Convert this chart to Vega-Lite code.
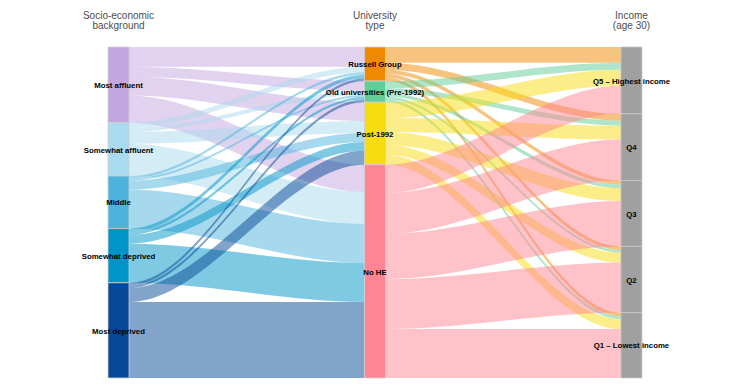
{
  "$schema": "https://vega.github.io/schema/vega-lite/v6.json",
  "width": 534,
  "height": 331,
  "autosize": {"type": "none"},
  "padding": {"left": 108, "top": 47, "right": 105, "bottom": 13},
  "background": "white",
  "config": {
    "view": {"stroke": null},
    "axis": {"disable": true},
    "legend": {"disable": true},
    "font": "Liberation Sans"
  },
  "datasets": {
    "flows": [
      {"stage": 0, "source": "Most affluent", "s": 1, "target": "Russell Group", "t": 1, "value": 6.0},
      {"stage": 0, "source": "Most affluent", "s": 1, "target": "Old universities (Pre-1992)", "t": 2, "value": 3.0},
      {"stage": 0, "source": "Most affluent", "s": 1, "target": "Post-1992", "t": 3, "value": 5.7},
      {"stage": 0, "source": "Most affluent", "s": 1, "target": "No HE", "t": 4, "value": 8.2},
      {"stage": 0, "source": "Somewhat affluent", "s": 2, "target": "Russell Group", "t": 1, "value": 1.6},
      {"stage": 0, "source": "Somewhat affluent", "s": 2, "target": "Old universities (Pre-1992)", "t": 2, "value": 1.2},
      {"stage": 0, "source": "Somewhat affluent", "s": 2, "target": "Post-1992", "t": 3, "value": 3.6},
      {"stage": 0, "source": "Somewhat affluent", "s": 2, "target": "No HE", "t": 4, "value": 9.7},
      {"stage": 0, "source": "Middle", "s": 3, "target": "Russell Group", "t": 1, "value": 0.8},
      {"stage": 0, "source": "Middle", "s": 3, "target": "Old universities (Pre-1992)", "t": 2, "value": 0.6},
      {"stage": 0, "source": "Middle", "s": 3, "target": "Post-1992", "t": 3, "value": 2.7},
      {"stage": 0, "source": "Middle", "s": 3, "target": "No HE", "t": 4, "value": 11.8},
      {"stage": 0, "source": "Somewhat deprived", "s": 4, "target": "Russell Group", "t": 1, "value": 1.1},
      {"stage": 0, "source": "Somewhat deprived", "s": 4, "target": "Old universities (Pre-1992)", "t": 2, "value": 0.8},
      {"stage": 0, "source": "Somewhat deprived", "s": 4, "target": "Post-1992", "t": 3, "value": 2.7},
      {"stage": 0, "source": "Somewhat deprived", "s": 4, "target": "No HE", "t": 4, "value": 11.8},
      {"stage": 0, "source": "Most deprived", "s": 5, "target": "Russell Group", "t": 1, "value": 0.8},
      {"stage": 0, "source": "Most deprived", "s": 5, "target": "Old universities (Pre-1992)", "t": 2, "value": 0.8},
      {"stage": 0, "source": "Most deprived", "s": 5, "target": "Post-1992", "t": 3, "value": 4.2},
      {"stage": 0, "source": "Most deprived", "s": 5, "target": "No HE", "t": 4, "value": 23.0},
      {"stage": 1, "source": "Russell Group", "s": 1, "target": "Q5 – Highest income", "t": 1, "value": 4.8},
      {"stage": 1, "source": "Russell Group", "s": 1, "target": "Q4", "t": 2, "value": 2.1},
      {"stage": 1, "source": "Russell Group", "s": 1, "target": "Q3", "t": 3, "value": 1.2},
      {"stage": 1, "source": "Russell Group", "s": 1, "target": "Q2", "t": 4, "value": 1.1},
      {"stage": 1, "source": "Russell Group", "s": 1, "target": "Q1 – Lowest income", "t": 5, "value": 1.1},
      {"stage": 1, "source": "Old universities (Pre-1992)", "s": 2, "target": "Q5 – Highest income", "t": 1, "value": 2.1},
      {"stage": 1, "source": "Old universities (Pre-1992)", "s": 2, "target": "Q4", "t": 2, "value": 1.5},
      {"stage": 1, "source": "Old universities (Pre-1992)", "s": 2, "target": "Q3", "t": 3, "value": 1.1},
      {"stage": 1, "source": "Old universities (Pre-1992)", "s": 2, "target": "Q2", "t": 4, "value": 0.8},
      {"stage": 1, "source": "Old universities (Pre-1992)", "s": 2, "target": "Q1 – Lowest income", "t": 5, "value": 0.9},
      {"stage": 1, "source": "Post-1992", "s": 3, "target": "Q5 – Highest income", "t": 1, "value": 4.8},
      {"stage": 1, "source": "Post-1992", "s": 3, "target": "Q4", "t": 2, "value": 4.2},
      {"stage": 1, "source": "Post-1992", "s": 3, "target": "Q3", "t": 3, "value": 3.9},
      {"stage": 1, "source": "Post-1992", "s": 3, "target": "Q2", "t": 4, "value": 3.0},
      {"stage": 1, "source": "Post-1992", "s": 3, "target": "Q1 – Lowest income", "t": 5, "value": 3.0},
      {"stage": 1, "source": "No HE", "s": 4, "target": "Q5 – Highest income", "t": 1, "value": 8.5},
      {"stage": 1, "source": "No HE", "s": 4, "target": "Q4", "t": 2, "value": 12.4},
      {"stage": 1, "source": "No HE", "s": 4, "target": "Q3", "t": 3, "value": 13.7},
      {"stage": 1, "source": "No HE", "s": 4, "target": "Q2", "t": 4, "value": 15.1},
      {"stage": 1, "source": "No HE", "s": 4, "target": "Q1 – Lowest income", "t": 5, "value": 14.8}
    ]
  },
  "data": {"name": "flows"},
  "layer": [
    {
      "transform": [
        {"window": [{"op": "sum", "field": "value", "as": "sy1"}], "sort": [{"field": "s"}, {"field": "t"}], "groupby": ["stage"], "frame": [null, 0]},
        {"window": [{"op": "sum", "field": "value", "as": "ty1"}], "sort": [{"field": "t"}, {"field": "s"}], "groupby": ["stage"], "frame": [null, 0]},
        {"calculate": "datum.sy1 - datum.value", "as": "sy0"},
        {"calculate": "datum.ty1 - datum.value", "as": "ty0"},
        {"calculate": "[0, 1, 2, 3]", "as": "k"},
        {"flatten": ["k"]},
        {"calculate": "datum.stage + (datum.k == 0 ? 0.082 : datum.k == 1 ? 0.083 : datum.k == 2 ? 0.999 : 1)", "as": "px"},
        {"calculate": "datum.k < 2 ? datum.sy0 : datum.ty0", "as": "py0"},
        {"calculate": "datum.k < 2 ? datum.sy1 : datum.ty1", "as": "py1"},
        {"calculate": "datum.source + ' > ' + datum.target", "as": "fid"}
      ],
      "mark": {"type": "area", "interpolate": "monotone", "opacity": 0.5},
      "encoding": {
        "x": {"field": "px", "type": "quantitative", "scale": {"domain": [0, 2.082], "nice": false, "zero": false}},
        "y": {"field": "py0", "type": "quantitative", "scale": {"domain": [0, 100.1], "reverse": true, "nice": false, "zero": false}},
        "y2": {"field": "py1"},
        "color": {
          "field": "source",
          "type": "nominal",
          "legend": null,
          "scale": {
            "domain": ["Most affluent", "Somewhat affluent", "Middle", "Somewhat deprived", "Most deprived", "Russell Group", "Old universities (Pre-1992)", "Post-1992", "No HE", "Q5 – Highest income", "Q4", "Q3", "Q2", "Q1 – Lowest income"],
            "range": ["#c3a6e0", "#a9daee", "#4db3dc", "#0095c8", "#064896", "#ef8a00", "#60ce98", "#f8dc12", "#ff8592", "#a0a0a0", "#a0a0a0", "#a0a0a0", "#a0a0a0", "#a0a0a0"]
          }
        },
        "detail": {"field": "fid"}
      }
    },
    {
      "transform": [
        {"filter": "datum.stage == 0"},
        {"aggregate": [{"op": "sum", "field": "value", "as": "total"}], "groupby": ["source", "s"]},
        {"window": [{"op": "sum", "field": "total", "as": "n1"}], "sort": [{"field": "s"}], "frame": [null, 0]},
        {"calculate": "datum.n1 - datum.total", "as": "n0"},
        {"calculate": "(datum.n0 + datum.n1) / 2", "as": "mid"}
      ],
      "layer": [
        {
          "mark": {"type": "rect", "stroke": "#d0d0d0", "strokeWidth": 0.8},
          "encoding": {
            "x": {"datum": 0, "type": "quantitative"},
            "x2": {"datum": 0.082},
            "y": {"field": "n0", "type": "quantitative"},
            "y2": {"field": "n1"},
            "color": {"field": "source", "type": "nominal", "legend": null}
          }
        },
        {
          "mark": {"type": "text", "fontWeight": "bold", "fontSize": 7.8, "color": "#000000", "align": "center", "baseline": "middle", "dy": 1.2},
          "encoding": {
            "x": {"datum": 0.041, "type": "quantitative"},
            "y": {"field": "mid", "type": "quantitative"},
            "text": {"field": "source"}
          }
        }
      ]
    },
    {
      "transform": [
        {"filter": "datum.stage == 0"},
        {"aggregate": [{"op": "sum", "field": "value", "as": "total"}], "groupby": ["target", "t"]},
        {"window": [{"op": "sum", "field": "total", "as": "n1"}], "sort": [{"field": "t"}], "frame": [null, 0]},
        {"calculate": "datum.n1 - datum.total", "as": "n0"},
        {"calculate": "(datum.n0 + datum.n1) / 2", "as": "mid"}
      ],
      "layer": [
        {
          "mark": {"type": "rect", "stroke": "#d0d0d0", "strokeWidth": 0.8},
          "encoding": {
            "x": {"datum": 1, "type": "quantitative"},
            "x2": {"datum": 1.082},
            "y": {"field": "n0", "type": "quantitative"},
            "y2": {"field": "n1"},
            "color": {"field": "target", "type": "nominal", "legend": null}
          }
        },
        {
          "mark": {"type": "text", "fontWeight": "bold", "fontSize": 7.8, "color": "#000000", "align": "center", "baseline": "middle", "dy": 1.2},
          "encoding": {
            "x": {"datum": 1.041, "type": "quantitative"},
            "y": {"field": "mid", "type": "quantitative"},
            "text": {"field": "target"}
          }
        }
      ]
    },
    {
      "transform": [
        {"filter": "datum.stage == 1"},
        {"aggregate": [{"op": "sum", "field": "value", "as": "total"}], "groupby": ["target", "t"]},
        {"window": [{"op": "sum", "field": "total", "as": "n1"}], "sort": [{"field": "t"}], "frame": [null, 0]},
        {"calculate": "datum.n1 - datum.total", "as": "n0"},
        {"calculate": "(datum.n0 + datum.n1) / 2", "as": "mid"}
      ],
      "layer": [
        {
          "mark": {"type": "rect", "stroke": "#c8c8c8", "strokeWidth": 0.8},
          "encoding": {
            "x": {"datum": 2, "type": "quantitative"},
            "x2": {"datum": 2.082},
            "y": {"field": "n0", "type": "quantitative"},
            "y2": {"field": "n1"},
            "color": {"field": "target", "type": "nominal", "legend": null}
          }
        },
        {
          "mark": {"type": "text", "fontWeight": "bold", "fontSize": 7.8, "color": "#000000", "align": "center", "baseline": "middle", "dy": 1.2},
          "encoding": {
            "x": {"datum": 2.041, "type": "quantitative"},
            "y": {"field": "mid", "type": "quantitative"},
            "text": {"field": "target"}
          }
        }
      ]
    },
    {
      "data": {"values": [{}]},
      "mark": {"type": "text", "text": ["Socio-economic", "background"], "fontSize": 10, "color": "#4d4d4d", "align": "center", "baseline": "middle", "lineHeight": 10},
      "encoding": {"x": {"datum": 0.041, "type": "quantitative"}, "y": {"datum": -9.4, "type": "quantitative"}}
    },
    {
      "data": {"values": [{}]},
      "mark": {"type": "text", "text": ["University", "type"], "fontSize": 10, "color": "#4d4d4d", "align": "center", "baseline": "middle", "lineHeight": 10},
      "encoding": {"x": {"datum": 1.041, "type": "quantitative"}, "y": {"datum": -9.4, "type": "quantitative"}}
    },
    {
      "data": {"values": [{}]},
      "mark": {"type": "text", "text": ["Income", "(age 30)"], "fontSize": 10, "color": "#4d4d4d", "align": "center", "baseline": "middle", "lineHeight": 10},
      "encoding": {"x": {"datum": 2.041, "type": "quantitative"}, "y": {"datum": -9.4, "type": "quantitative"}}
    }
  ]
}
